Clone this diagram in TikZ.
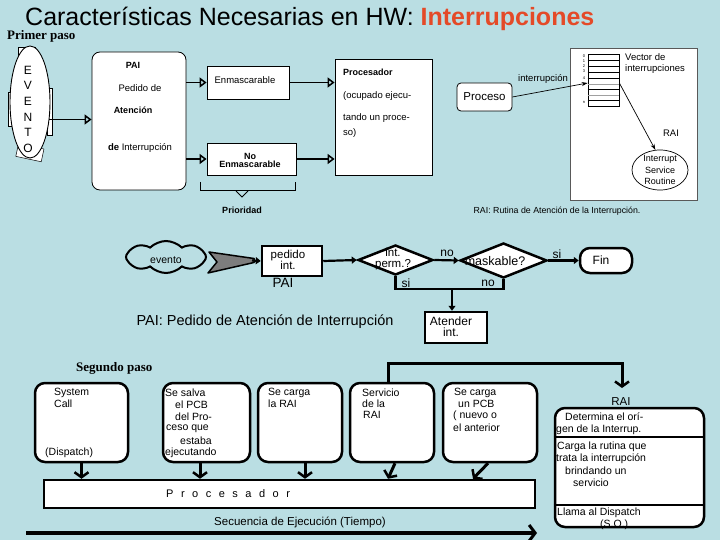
\documentclass[tikz,border=0pt]{standalone}
\usepackage{fontspec}
\setmainfont{Liberation Sans}
\newfontfamily\serifbf{Liberation Serif}
\usetikzlibrary{arrows.meta,shapes.geometric,shapes.symbols,calc}
\definecolor{bg}{RGB}{186,222,227}
\definecolor{titlered}{RGB}{228,74,40}
\definecolor{wedge}{RGB}{125,125,125}
\definecolor{rowgray}{RGB}{160,160,160}
\newcommand{\fsz}[1]{\fontsize{#1}{#1}\selectfont}
\begin{document}
\begin{tikzpicture}[x=1pt,y=-1pt,
  tt/.style={inner sep=0pt, font=\fsz{9.5}},
  ttb/.style={inner sep=0pt, font=\bfseries\fsz{9}},
  topbox/.style={draw, fill=white, line width=0.8pt, inner sep=0pt},
  toparrow/.style={line width=1.8pt, -{Triangle[open,length=7pt,width=10pt,line width=1.5pt]}},
  thinarrow/.style={line width=0.7pt, -{Stealth[length=6pt,width=4pt]}},
  fcbox/.style={draw, fill=white, line width=2.5pt, inner sep=0pt},
  fcline/.style={line width=2.2pt},
  fcarrow/.style={line width=2.2pt, -{Triangle[length=5pt,width=7pt]}},
  fct/.style={inner sep=0pt, font=\fsz{12}, align=center},
  stepbox/.style={draw, fill=white, line width=2.5pt, rounded corners=10pt, minimum height=79pt, inner sep=0pt},
  barb/.style={line width=3pt, -{Straight Barb[length=5pt,width=14pt,line width=2.5pt]}},
  bt/.style={inner sep=0pt, font=\fsz{10.5}, anchor=west},
]
\useasboundingbox (0,0) rectangle (720,540);
\fill[bg] (0,0) rectangle (720,540);

% title
\node[anchor=base west, inner sep=0pt, font=\fsz{25}] (title) at (25,26)
  {Características Necesarias en HW: \textcolor{titlered}{\bfseries Interrupciones}};
\node[anchor=base west, inner sep=0pt, font=\serifbf\bfseries\fsz{13}] (paso1) at (7,40) {Primer paso};

% ---------- first step ----------
\draw[fill=white, line width=0.5pt] (18,47) rectangle (35,56);
\draw[fill=white, line width=0.5pt, rotate around={-12:(29,152)}] (17,146) rectangle (43,159);
\draw[fill=white, line width=0.5pt] (8,92) rectangle (13,126);
\draw[fill=white, line width=0.5pt] (47,88) rectangle (52,135);
\node[draw, fill=white, ellipse, line width=0.9pt, minimum width=40pt, minimum height=112pt, inner sep=0pt] (evento) at (30,102) {};
\foreach \l [count=\i] in {E,V,E,N,T,O}
  \node[inner sep=0pt, font=\fsz{12}] (ev\i) at (28,54.5+15.6*\i) {\l};

\node[topbox, rounded corners=8pt, minimum width=94pt, minimum height=138pt] (pai) at (139,121) {};
\node[ttb] (paiA) at (133,65) {PAI};
\node[tt] (paiB) at (140,88) {Pedido de};
\node[ttb] (paiC) at (133,110) {Atención};
\node[tt] (paiD) at (140,148) {\textbf{de} Interrupción};
\draw[toparrow] (evento.-42) -- (pai.west |- evento.-42);

\node[topbox, minimum width=82pt, minimum height=33pt] (enm) at (248,82.5) {};
\node[tt] (enmT) at (245,80) {Enmascarable};
\node[topbox, minimum width=89pt, minimum height=32pt] (nenm) at (251.5,159) {};
\node[ttb, align=center] (nenmT) at (250,160) {No\\[-1pt]Enmascarable};

\node[topbox, minimum width=97pt, minimum height=116pt] (proc) at (383.5,117) {};
\node[ttb, anchor=west] (procA) at (343,72) {Procesador};
\node[tt, anchor=west] (procB) at (343,96) {(ocupado ejecu-};
\node[tt, anchor=west] (procC) at (343,118) {tando un proce-};
\node[tt, anchor=west] (procD) at (343,133) {so)};
\draw[toparrow] (pai.east |- enm) -- (enm.west);
\draw[toparrow] (pai.east |- nenm) -- (nenm.west);
\draw[toparrow] (enm.east) -- (proc.west |- enm);
\draw[toparrow] (nenm.east) -- (proc.west |- nenm);

\draw[line width=1pt] (200,182) -- (200,191) -- (295,191) -- (295,182);
\draw[line width=1pt] (236,191) -- (242,197) -- (248,191);
\node[ttb] (prio) at (242,210) {Prioridad};

% right part
\node[draw, fill=white, rounded corners=4pt, line width=0.8pt, minimum width=55pt, minimum height=28pt, inner sep=0pt, font=\fsz{11.5}] (proceso) at (484.5,97) {Proceso};
\draw[draw=gray!70!black, fill=white, line width=0.6pt] (570,48) rectangle (697,200);
\node[draw, line width=0.7pt, minimum width=31pt, minimum height=52pt, inner sep=0pt] (vec) at (603.5,80) {};
\foreach \yy/\c in {60/black,66/black,72/black,78/black,84/rowgray,89/black,95/rowgray,100/black}
  \draw[\c, line width=0.7pt] (vec.west |- 0,\yy) -- (vec.east |- 0,\yy);
\foreach \k/\yy in {0/56,1/61,2/66,3/71,4/78,n/102}
  \node[inner sep=0pt, font=\fsz{4}] at (584,\yy) {\k};
\node[tt, anchor=west] (vecA) at (625,57) {Vector de};
\node[tt, anchor=west] (vecB) at (625,69) {interrupciones};
\node[tt] (intlbl) at (543,79) {interrupción};
\coordinate (v4) at (vec.west |- 0,83);
\draw[thinarrow] (proceso.east) -- (v4);
\node[draw, ellipse, fill=white, line width=0.7pt, minimum width=56pt, minimum height=40pt, inner sep=0pt] (isr) at (660,170) {};
\node[inner sep=0pt, align=center, font=\fontsize{9}{11.5}\selectfont] (isrT) at (660,170) {Interrupt\\Service\\Routine};
\coordinate (v4r) at (vec.east |- 0,83);
\draw[thinarrow] (v4r) -- (isr.103);
\node[tt] (rai1) at (671,133) {RAI};
\node[inner sep=0pt, font=\fsz{8.8}] (capt) at (557,211) {RAI: Rutina de Atención de la Interrupción.};

% ---------- flowchart ----------
\node[cloud, cloud puffs=8, cloud puff arc=90, aspect=2.5, draw, line width=2pt, minimum width=80pt, minimum height=32pt, inner sep=0pt] (ev) at (166,257) {};
\node[inner sep=0pt, font=\fsz{10.5}] (evT) at (166,260) {evento};
\filldraw[fill=wedge, line width=1.5pt, line join=round] (209,252) -- (254,258.5) -- (254,262.5) -- (208,273) -- (217,262) -- cycle;
\coordinate (wtip) at (252,260.5);
\node[fcbox, minimum width=60pt, minimum height=30pt] (ped) at (292,261) {};
\draw[fcarrow] (wtip) -- (ped.west);
\node[fct, font=\fontsize{11.5}{11}\selectfont] (pedT) at (288,260) {pedido\\int.};
\node[inner sep=0pt, font=\fsz{13.5}] (paiL) at (283,283) {PAI};

\node[diamond, draw, fill=white, line width=2.5pt, minimum width=75pt, minimum height=30pt, inner sep=0pt] (perm) at (395.5,260) {};
\node[fct, font=\fontsize{11.5}{11}\selectfont] (permT) at (393,259) {int.\\perm.?};
\draw[fcarrow] (ped.east) -- (perm.west);
\node[diamond, draw, fill=white, line width=2.5pt, minimum width=87pt, minimum height=35pt, inner sep=0pt] (mask) at (503.5,260.5) {};
\node[inner sep=0pt, font=\fsz{12.5}] (maskT) at (495,261) {maskable?};
\draw[fcarrow] (perm.east) -- (mask.west);
\node[draw, fill=white, line width=2.5pt, rounded corners=10pt, minimum width=52pt, minimum height=25pt, inner sep=0pt] (fin) at (606,260.5) {};
\node[inner sep=0pt, font=\fsz{12}] (finT) at (601,260) {Fin};
\draw[fcarrow] (mask.east) -- (fin.west);
\node[fct] (no1) at (447,253) {no};
\node[fct] (si1) at (557,254) {si};
\node[fct] (si2) at (406,283) {si};
\node[fct] (no2) at (488,283) {no};
\node[fcbox, minimum width=62pt, minimum height=31pt] (aten) at (456,327.5) {};
\node[fct, font=\fontsize{12}{11}\selectfont] (atenT) at (451,327) {Atender\\int.};
\draw[fcline] (perm.south) -- ++(0,13) -| (mask.south);
\coordinate (jn) at (452,288);
\draw[fcarrow] (jn) -- (jn |- aten.north);
\node[inner sep=0pt, font=\fsz{14.5}] (paidef) at (265,322) {PAI: Pedido de Atención de Interrupción};

% ---------- second step ----------
\node[anchor=base west, inner sep=0pt, font=\serifbf\bfseries\fsz{13}] (paso2) at (76,371) {Segundo paso};
\node[stepbox, minimum width=93pt] (b1) at (81.5,422.5) {};
\node[stepbox, minimum width=87pt] (b2) at (206.5,422.5) {};
\node[stepbox, minimum width=84pt] (b3) at (300,422.5) {};
\node[stepbox, minimum width=84pt] (b4) at (392,422.5) {};
\node[stepbox, minimum width=94pt] (b5) at (490,422.5) {};

\node[bt] at (54,393) {System};
\node[bt] at (54,404) {Call};
\node[bt] at (45,453) {(Dispatch)};
\node[bt] at (165,393) {Se salva};
\node[bt] at (175,405) {el PCB};
\node[bt] at (175,417) {del Pro-};
\node[bt] at (166,429) {ceso que};
\node[bt] at (180,441) {estaba};
\node[bt] at (165,453) {ejecutando};
\node[bt] at (268,393) {Se carga};
\node[bt] at (268,404) {la RAI};
\node[bt] at (362,393) {Servicio};
\node[bt] at (362,404) {de la};
\node[bt] at (363,415) {RAI};
\node[bt] at (454,393) {Se carga};
\node[bt] at (458,404) {un PCB};
\node[bt] at (453,416) {( nuevo o};
\node[bt] at (453,428) {el anterior};

\node[fcbox, minimum width=491pt, minimum height=28pt] (bar) at (289.5,494) {};
\node[inner sep=0pt, anchor=west, font=\fsz{11}] (barT) at (166,494)
  {P\kern7.5pt r\kern7.5pt o\kern7.5pt c\kern7.5pt e\kern7.5pt s\kern7.5pt a\kern7.5pt d\kern7.5pt o\kern7.5pt r};
\draw[barb] (b1.south) -- (b1.south |- bar.north);
\draw[barb] ([xshift=-6.5pt]b2.south) -- ([xshift=-6.5pt]b2.south |- bar.north);
\draw[barb] ([xshift=5pt]b3.south) -- ([xshift=5pt]b3.south |- bar.north);
\draw[barb] ([xshift=3pt]b4.south) -- ([xshift=-4pt]b4.south |- bar.north);
\draw[barb] ([xshift=-2pt]b5.south) -- ([xshift=-17pt]b5.south |- bar.north);

\node[inner sep=0pt, font=\fsz{11.5}] (seq) at (300,522) {Secuencia de Ejecución (Tiempo)};
\coordinate (t0) at (26,533);
\coordinate (t1) at (537,533);
\draw[line width=4pt, -{Straight Barb[length=6pt,width=16pt,line width=3pt]}] (t0) -- (t1);

\node[inner sep=0pt, font=\fsz{11.5}] (railbl) at (621,402) {RAI};
\coordinate (raitop) at (622,388);
\draw[barb] ([xshift=-4pt]b4.north) -- ++(0,-18) -| (raitop);

\node[draw, fill=white, line width=2.5pt, rounded corners=10pt, minimum width=149pt, minimum height=119pt, inner sep=0pt] (rai) at (629.5,467.5) {};
\draw[line width=2.5pt] (rai.west |- 0,437) -- (rai.east |- 0,437);
\draw[line width=2.5pt] (rai.west |- 0,505) -- (rai.east |- 0,505);
\node[bt] at (565,417) {Determina el orí-};
\node[bt] at (556,430) {gen de la Interrup.};
\node[bt] at (557,447) {Carga la rutina que};
\node[bt] at (556,459) {trata la interrupción};
\node[bt] at (565,471) {brindando un};
\node[bt] at (573,483) {servicio};
\node[bt] at (557,513) {Llama al Dispatch};
\node[bt] at (600,525) {(S.O.)};
\end{tikzpicture}
\end{document}
